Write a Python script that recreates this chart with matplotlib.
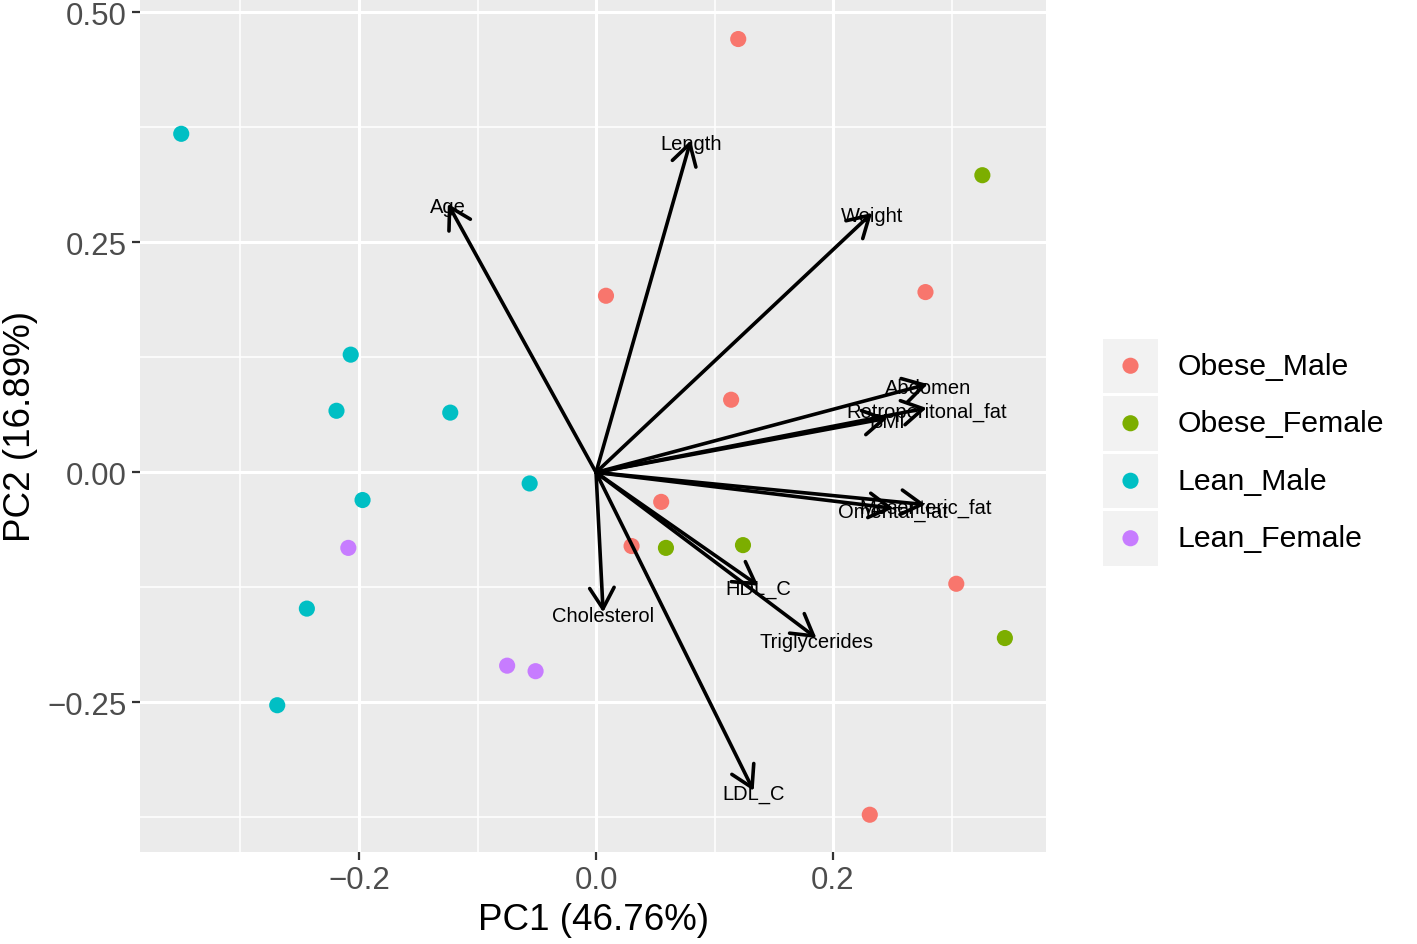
import matplotlib
matplotlib.use("Agg")
import matplotlib.pyplot as plt
import numpy as np

plt.rcParams['font.family'] = ['Liberation Sans', 'DejaVu Sans']

groups = ["Obese_Male", "Obese_Female", "Lean_Male", "Lean_Female"]
colors = ["#F8766D", "#7CAE00", "#00BFC4", "#C77CFF"]

obese_male_x = [0.120, 0.0084, 0.278, 0.114, 0.055, 0.030, 0.304, 0.231]
obese_male_y = [0.471, 0.192, 0.196, 0.079, -0.032, -0.080, -0.121, -0.372]
obese_female_x = [0.326, 0.059, 0.124, 0.345]
obese_female_y = [0.323, -0.082, -0.079, -0.180]
lean_male_x = [-0.350, -0.207, -0.219, -0.123, -0.197, -0.056, -0.244, -0.269]
lean_male_y = [0.368, 0.128, 0.067, 0.065, -0.030, -0.012, -0.148, -0.253]
lean_female_x = [-0.209, -0.075, -0.051]
lean_female_y = [-0.082, -0.210, -0.216]

group_x = [obese_male_x, obese_female_x, lean_male_x, lean_female_x]
group_y = [obese_male_y, obese_female_y, lean_male_y, lean_female_y]

var_names = ["Age", "Length", "Weight", "Abdomen", "Retroperitonal_fat", "BMI",
             "Mesenteric_fat", "Omental_fat", "HDL_C", "Triglycerides",
             "Cholesterol", "LDL_C"]
var_x = [-0.125, 0.080, 0.233, 0.280, 0.279, 0.246, 0.278, 0.251, 0.137, 0.186, 0.006, 0.133]
var_y = [0.292, 0.361, 0.282, 0.096, 0.070, 0.059, -0.035, -0.039, -0.123, -0.180, -0.152, -0.346]

x_major = [-0.2, 0.0, 0.2]
x_minor = [-0.3, -0.1, 0.1, 0.3]
y_major = [-0.25, 0.0, 0.25, 0.50]
y_minor = [-0.375, -0.125, 0.125, 0.375]
x_ticklabels = ["\u22120.2", "0.0", "0.2"]
y_ticklabels = ["\u22120.25", "0.00", "0.25", "0.50"]

W, H = 1417, 945
fig = plt.figure(figsize=(W / 100, H / 100), dpi=100)
ax = fig.add_axes([140 / W, (H - 853) / H, (1046 - 140) / W, 853 / H])
ax.set_facecolor("#EBEBEB")
for s in ax.spines.values():
    s.set_visible(False)

ax.set_xlim(-0.3848, 0.3797)
ax.set_ylim(-0.4125, 0.5145)

for v in x_minor:
    ax.axvline(v, color="white", lw=1.1, zorder=0)
for v in y_minor:
    ax.axhline(v, color="white", lw=1.1, zorder=0)
for v in x_major:
    ax.axvline(v, color="white", lw=2.2, zorder=0)
for v in y_major:
    ax.axhline(v, color="white", lw=2.2, zorder=0)

ax.set_xticks(x_major)
ax.set_xticklabels(x_ticklabels)
ax.set_yticks(y_major)
ax.set_yticklabels(y_ticklabels)
ax.tick_params(axis="both", length=5.5, width=1.6, color="#333333",
               labelsize=22.5, labelcolor="#4D4D4D", pad=4)

for gx, gy, c in zip(group_x, group_y, colors):
    ax.scatter(gx, gy, s=135, color=c, edgecolors="none", zorder=2)

for name, vx, vy in zip(var_names, var_x, var_y):
    ax.annotate(name, (vx, vy), xytext=(0, -2.2), textcoords="offset points",
                ha="center", va="center", fontsize=14.5, color="black", zorder=3)
    ax.annotate("", xy=(vx, vy), xytext=(0, 0),
                arrowprops=dict(arrowstyle="->,head_length=1.5,head_width=0.88",
                                mutation_scale=10, lw=2.6, color="black",
                                shrinkA=0, shrinkB=0),
                zorder=4)

ax.set_xlabel("PC1 (46.76%)", fontsize=26.5, color="black", labelpad=5)
ax.set_ylabel("PC2 (16.89%)", fontsize=26.5, color="black", labelpad=7)

# legend
lg = fig.add_axes([1103 / W, (H - 568) / H, (W - 1103) / W, 230 / H])
lg.set_xlim(0, W - 1103)
lg.set_ylim(230, 0)
lg.axis("off")
row_h = 57.5
for i, (g, c) in enumerate(zip(groups, colors)):
    top = i * row_h + 1.5
    lg.add_patch(plt.Rectangle((0, top), 55, row_h - 3, facecolor="#F2F2F2",
                               edgecolor="none"))
    cy = i * row_h + row_h / 2
    lg.scatter([27.5], [cy], s=135, color=c, edgecolors="none")
    lg.text(75, cy, g, ha="left", va="center", fontsize=21.8, color="black")

fig.savefig("out.png", dpi=100)
